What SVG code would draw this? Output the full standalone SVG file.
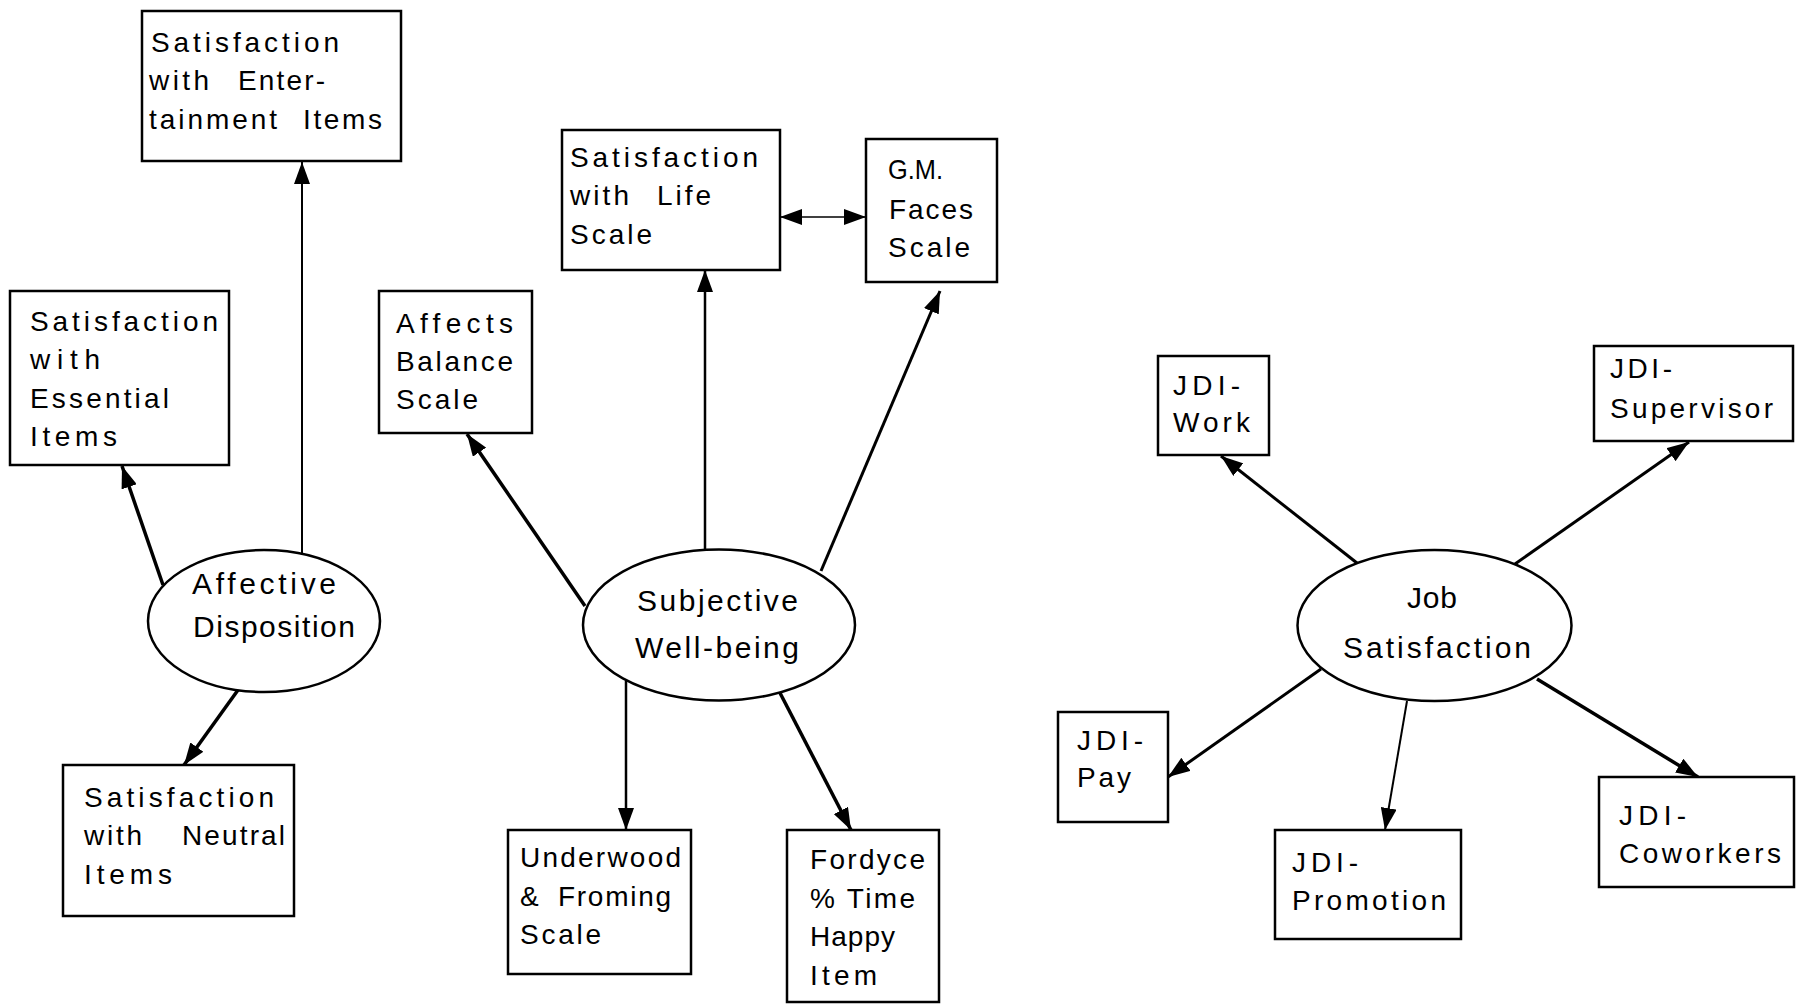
<svg xmlns="http://www.w3.org/2000/svg" width="1796" height="1004" viewBox="0 0 1796 1004">
<style>
.box{fill:#fff;stroke:#000;stroke-width:2.5}
.ell{fill:#fff;stroke:#000;stroke-width:2.5}
.t{font-family:"Liberation Sans",Arial,Helvetica,sans-serif;font-size:28px;fill:#000}
.te{font-family:"Liberation Sans",Arial,Helvetica,sans-serif;font-size:30px;fill:#000}
.c{fill:none;stroke:#000;marker-end:url(#ah)}
</style>
<defs>
<marker id="ah" viewBox="0 0 22 16" markerWidth="22" markerHeight="16" refX="22" refY="8" orient="auto-start-reverse" markerUnits="userSpaceOnUse">
<path d="M0,0 L22,8 L0,16 z" fill="#000"/>
</marker>
</defs>
<rect width="1796" height="1004" fill="#fff"/>
<g id="connectors">
<line class="c" x1="302" y1="556" x2="302" y2="162" stroke-width="2"/>
<line class="c" x1="163" y1="585" x2="122" y2="466" stroke-width="3.5"/>
<line class="c" x1="238" y1="690" x2="184" y2="765" stroke-width="3.5"/>
<line class="c" x1="585" y1="606" x2="467" y2="434" stroke-width="3.5"/>
<line class="c" x1="705" y1="550" x2="705" y2="270" stroke-width="2.5"/>
<line class="c" x1="821" y1="571" x2="940" y2="291" stroke-width="3"/>
<line class="c" x1="626" y1="681" x2="626" y2="830" stroke-width="2.5"/>
<line class="c" x1="779" y1="691" x2="851" y2="830" stroke-width="3.5"/>
<line class="c" x1="780" y1="217" x2="866" y2="217" stroke-width="1.5" marker-start="url(#ah)"/>
<line class="c" x1="1357" y1="563" x2="1221" y2="456" stroke-width="3"/>
<line class="c" x1="1515" y1="564" x2="1689" y2="442" stroke-width="3"/>
<line class="c" x1="1321" y1="669" x2="1168" y2="777" stroke-width="3"/>
<line class="c" x1="1407" y1="701" x2="1385" y2="830" stroke-width="2"/>
<line class="c" x1="1537" y1="679" x2="1698" y2="777" stroke-width="3.5"/>
</g>
<g id="n-entertainment">
<rect class="box" x="142" y="11" width="259" height="150"/>
<text class="t" x="151" y="52" textLength="188" lengthAdjust="spacing">Satisfaction</text>
<text class="t" x="149" y="90" textLength="60" lengthAdjust="spacing">with</text>
<text class="t" x="238" y="90" textLength="87" lengthAdjust="spacing">Enter-</text>
<text class="t" x="149" y="129" textLength="128" lengthAdjust="spacing">tainment</text>
<text class="t" x="303" y="129" textLength="79" lengthAdjust="spacing">Items</text>
</g>
<g id="n-essential">
<rect class="box" x="10" y="291" width="219" height="174"/>
<text class="t" x="30" y="331" textLength="188" lengthAdjust="spacing">Satisfaction</text>
<text class="t" x="30" y="369" textLength="70" lengthAdjust="spacing">with</text>
<text class="t" x="30" y="408" textLength="139" lengthAdjust="spacing">Essential</text>
<text class="t" x="30" y="446" textLength="87" lengthAdjust="spacing">Items</text>
</g>
<g id="n-affects">
<rect class="box" x="379" y="291" width="153" height="142"/>
<text class="t" x="396" y="333" textLength="117" lengthAdjust="spacing">Affects</text>
<text class="t" x="396" y="371" textLength="117" lengthAdjust="spacing">Balance</text>
<text class="t" x="396" y="409" textLength="82" lengthAdjust="spacing">Scale</text>
</g>
<g id="n-satlife">
<rect class="box" x="562" y="130" width="218" height="140"/>
<text class="t" x="570" y="167" textLength="188" lengthAdjust="spacing">Satisfaction</text>
<text class="t" x="570" y="205" textLength="59" lengthAdjust="spacing">with</text>
<text class="t" x="657" y="205" textLength="54" lengthAdjust="spacing">Life</text>
<text class="t" x="570" y="244" textLength="82" lengthAdjust="spacing">Scale</text>
</g>
<g id="n-gmfaces">
<rect class="box" x="866" y="139" width="131" height="143"/>
<text class="t" x="888" y="179" textLength="55" lengthAdjust="spacingAndGlyphs">G.M.</text>
<text class="t" x="889" y="219" textLength="84" lengthAdjust="spacing">Faces</text>
<text class="t" x="888" y="257" textLength="82" lengthAdjust="spacing">Scale</text>
</g>
<g id="n-affective">
<ellipse class="ell" cx="264" cy="621" rx="116" ry="71"/>
<text class="te" x="192" y="594" textLength="144" lengthAdjust="spacing">Affective</text>
<text class="te" x="193" y="637" textLength="162" lengthAdjust="spacing">Disposition</text>
</g>
<g id="n-subjective">
<ellipse class="ell" cx="719" cy="625" rx="136" ry="75.5"/>
<text class="te" x="637" y="611" textLength="161" lengthAdjust="spacing">Subjective</text>
<text class="te" x="635" y="658" textLength="164" lengthAdjust="spacing">Well-being</text>
</g>
<g id="n-neutral">
<rect class="box" x="63" y="765" width="231" height="151"/>
<text class="t" x="84" y="807" textLength="190" lengthAdjust="spacing">Satisfaction</text>
<text class="t" x="84" y="845" textLength="58" lengthAdjust="spacing">with</text>
<text class="t" x="182" y="845" textLength="103" lengthAdjust="spacing">Neutral</text>
<text class="t" x="84" y="884" textLength="88" lengthAdjust="spacing">Items</text>
</g>
<g id="n-underwood">
<rect class="box" x="508" y="830" width="183" height="144"/>
<text class="t" x="520" y="867" textLength="161" lengthAdjust="spacing">Underwood</text>
<text class="t" x="520" y="906" textLength="18" lengthAdjust="spacing">&amp;</text>
<text class="t" x="558" y="906" textLength="113" lengthAdjust="spacing">Froming</text>
<text class="t" x="520" y="944" textLength="81" lengthAdjust="spacing">Scale</text>
</g>
<g id="n-fordyce">
<rect class="box" x="787" y="830" width="152" height="172"/>
<text class="t" x="810" y="869" textLength="115" lengthAdjust="spacing">Fordyce</text>
<text class="t" x="810" y="908" textLength="105" lengthAdjust="spacing">% Time</text>
<text class="t" x="810" y="946" textLength="85" lengthAdjust="spacing">Happy</text>
<text class="t" x="810" y="985" textLength="67" lengthAdjust="spacing">Item</text>
</g>
<g id="n-job">
<ellipse class="ell" cx="1434.5" cy="625.5" rx="137" ry="75.5"/>
<text class="te" x="1407" y="608" textLength="50" lengthAdjust="spacing">Job</text>
<text class="te" x="1343" y="658" textLength="188" lengthAdjust="spacing">Satisfaction</text>
</g>
<g id="n-work">
<rect class="box" x="1158" y="356" width="111" height="99"/>
<text class="t" x="1173" y="395" textLength="67" lengthAdjust="spacing">JDI-</text>
<text class="t" x="1173" y="432" textLength="77" lengthAdjust="spacing">Work</text>
</g>
<g id="n-supervisor">
<rect class="box" x="1594" y="346" width="199" height="95"/>
<text class="t" x="1610" y="378" textLength="62" lengthAdjust="spacing">JDI-</text>
<text class="t" x="1610" y="418" textLength="163" lengthAdjust="spacing">Supervisor</text>
</g>
<g id="n-pay">
<rect class="box" x="1058" y="712" width="110" height="110"/>
<text class="t" x="1077" y="750" textLength="66" lengthAdjust="spacing">JDI-</text>
<text class="t" x="1077" y="787" textLength="54" lengthAdjust="spacing">Pay</text>
</g>
<g id="n-promotion">
<rect class="box" x="1275" y="830" width="186" height="109"/>
<text class="t" x="1292" y="872" textLength="66" lengthAdjust="spacing">JDI-</text>
<text class="t" x="1292" y="910" textLength="154" lengthAdjust="spacing">Promotion</text>
</g>
<g id="n-coworkers">
<rect class="box" x="1599" y="777" width="195" height="110"/>
<text class="t" x="1619" y="825" textLength="67" lengthAdjust="spacing">JDI-</text>
<text class="t" x="1619" y="863" textLength="162" lengthAdjust="spacing">Coworkers</text>
</g>
</svg>
